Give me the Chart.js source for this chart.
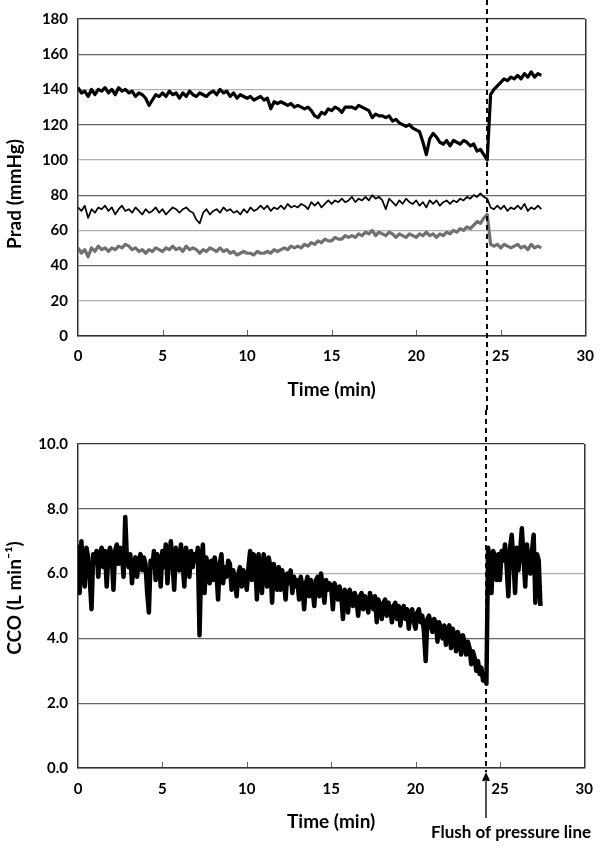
<!DOCTYPE html>
<html>
<head>
<meta charset="utf-8">
<script src="https://cdn.jsdelivr.net/npm/chart.js@4"></script>
<style>
  body { margin: 0; background: #fff; }
  canvas { display: block; }
</style>
</head>
<body>
<canvas id="pradChart" width="605" height="410"></canvas>
<canvas id="ccoChart" width="605" height="437"></canvas>
<script>
// pressure traces read every 0.2 min, CCO every 0.1 min
const PRAD_STEP = 0.2;
const CCO_STEP = 0.1;
const FLUSH_TIME = 24.2;
const xTicks = [0, 5, 10, 15, 20, 25, 30];

const pradHigh = [
  141, 138, 139, 136, 140,  137, 140, 139, 141, 138,
  140, 137, 141, 139, 140,  138, 139, 136, 138, 137,
  135, 131, 134, 137, 136,  138, 136, 139, 137, 138,
  135, 138, 136, 139, 137,  136, 138, 137, 136, 138,
  139, 137, 140, 138, 139,  136, 138, 135, 137, 136,
  135, 136, 134, 135, 136,  134, 135, 129, 133, 132,
  133, 132, 131, 132, 130,  131, 130, 129, 130, 128,
  125, 124, 127, 126, 129,  128, 130, 129, 127, 130,
  130, 130, 129, 131, 130,  129, 128, 124, 126, 125,
  125, 124, 125, 122, 123,  121, 120, 119, 120, 118,
  117, 116, 110, 103, 112,  115, 113, 110, 109, 111,
  108, 111, 110, 109, 111,  110, 108, 109, 105, 106,
  103, 100, 137, 140, 142,  144, 146, 145, 147, 146,
  148, 146, 149, 147, 150,  147, 149, 148
];

const pradMid = [
  73, 71, 74, 67, 72,  70, 73, 72, 74, 71,
  73, 69, 72, 74, 71,  72, 70, 73, 71, 69,
  72, 70, 71, 73, 70,  72, 69, 71, 73, 72,
  70, 72, 73, 71, 70,  66, 64, 70, 72, 69,
  71, 72, 70, 73, 71,  72, 70, 71, 69, 72,
  70, 73, 71, 72, 74,  72, 74, 71, 73, 72,
  74, 72, 75, 73, 74,  73, 75, 74, 72, 76,
  74, 76, 73, 75, 77,  75, 77, 76, 78, 76,
  77, 79, 76, 78, 77,  79, 77, 80, 78, 79,
  77, 72, 78, 76, 74,  77, 75, 78, 76, 75,
  77, 74, 76, 73, 77,  75, 77, 74, 76, 77,
  75, 77, 76, 78, 77,  79, 78, 80, 79, 81,
  79, 78, 73, 72, 74,  72, 74, 71, 73, 72,
  74, 72, 75, 71, 73,  72, 74, 72
];

const pradLow = [
  50, 47, 49, 45, 50,  48, 51, 49, 50, 48,
  50, 49, 51, 50, 52,  51, 49, 50, 48, 49,
  47, 49, 48, 50, 49,  48, 50, 49, 51, 49,
  50, 48, 51, 49, 50,  49, 47, 49, 48, 50,
  49, 48, 50, 48, 49,  47, 48, 46, 47, 48,
  47, 47, 46, 48, 47,  47, 48, 47, 49, 48,
  49, 50, 49, 51, 50,  51, 50, 52, 51, 53,
  52, 54, 53, 55, 54,  54, 56, 55, 55, 57,
  56, 57, 56, 58, 57,  59, 58, 60, 57, 59,
  58, 57, 59, 58, 56,  58, 57, 56, 58, 57,
  56, 58, 57, 59, 57,  58, 56, 58, 57, 59,
  58, 60, 59, 61, 60,  62, 61, 63, 65, 64,
  67, 69, 52, 51, 52,  50, 52, 51, 50, 51,
  52, 50, 51, 49, 52,  50, 51, 50
];

// one row per minute
const cco = [
  6.9, 5.4, 7.0, 6.2, 5.6, 6.8, 6.5, 5.8, 4.9, 6.6,
  6.4, 6.7, 5.9, 6.6, 6.8, 6.2, 6.7, 5.6, 6.6, 6.8,
  6.5, 5.5, 6.7, 6.9, 6.3, 6.8, 6.6, 5.9, 7.75, 6.4,
  6.2, 6.6, 5.7, 6.3, 6.5, 5.9, 6.4, 6.6, 6.1, 6.5,
  6.3, 5.4, 4.8, 6.4, 6.2, 6.7, 5.8, 6.6, 6.4, 5.6,
  6.7, 6.2, 6.9, 5.7, 6.5, 7.0, 6.3, 5.5, 6.8, 6.4,
  6.1, 6.9, 6.3, 5.6, 6.8, 6.5, 5.9, 6.7, 6.2, 6.6,
  6.4, 6.8, 4.1, 6.3, 6.9, 5.4, 6.5, 6.2, 5.7, 6.4,
  5.8, 6.5, 6.1, 5.2, 6.3, 6.6, 5.7, 6.2, 5.9, 6.4,
  6.3, 5.5, 6.1, 5.8, 5.3, 6.0, 6.2, 5.6, 6.1, 5.9,
  5.5, 6.2, 6.7, 5.8, 6.6, 6.4, 5.2, 6.6, 6.1, 5.4,
  6.6, 6.3, 5.6, 6.5, 6.2, 5.1, 6.3, 6.0, 5.5, 6.2,
  5.5, 6.1, 5.8, 5.2, 6.0, 5.7, 6.1, 5.4, 5.9, 5.6,
  5.8, 5.2, 5.9, 5.6, 4.9, 5.7, 5.9, 5.3, 5.8, 5.5,
  5.0, 5.8, 5.9, 5.3, 6.0, 5.6, 5.1, 5.8, 5.5, 5.7,
  5.6, 4.9, 5.7, 5.5, 5.2, 5.6, 5.3, 4.6, 5.5, 5.4,
  4.8, 5.5, 5.3, 5.0, 5.4, 5.2, 4.7, 5.3, 5.4, 4.9,
  5.3, 5.1, 4.8, 5.4, 5.2, 4.9, 5.3, 4.5, 5.2, 5.0,
  4.6, 5.1, 5.2, 4.7, 5.1, 4.9, 4.5, 5.0, 5.1, 4.6,
  5.0, 4.4, 4.9, 5.0, 4.6, 4.9, 4.3, 4.8, 4.9, 4.5,
  4.3, 4.8, 4.9, 4.5, 4.7, 4.2, 3.3, 4.6, 4.7, 4.4,
  4.2, 4.6, 4.5, 3.9, 4.5, 4.3, 4.0, 4.4, 3.8, 4.3,
  4.4, 3.7, 4.3, 4.1, 3.6, 4.2, 4.0, 3.5, 4.1, 3.9,
  3.5, 3.9, 3.7, 3.2, 3.6, 3.4, 3.0, 3.3, 2.9, 3.1,
  2.7, 2.8, 2.6, 6.8, 6.3, 5.4, 6.7, 6.5, 5.8, 6.6,
  5.8, 6.7, 6.4, 6.9, 6.2, 5.3, 6.8, 7.2, 6.4, 5.4,
  6.8, 6.1, 6.7, 7.4, 6.5, 5.6, 6.9, 6.3, 6.0, 6.7,
  7.2, 5.1, 6.6, 6.4, 5.0
];

const pts = (arr, step) => arr.map((v, i) => ({ x: +(i * step).toFixed(1), y: v }));

const FONT = "Lato, 'DejaVu Sans', sans-serif";
const tickFont = { family: FONT, size: 15, weight: 'bold' };
const titleFont = { family: FONT, size: 19, weight: 'bold' };

// y title drawn by hand so it can sit where the original has it
function yTitle(text, centerY) {
  return {
    id: 'yTitle',
    afterDraw(chart) {
      const ctx = chart.ctx;
      ctx.save();
      ctx.translate(15, centerY);
      ctx.rotate(-Math.PI / 2);
      ctx.font = 'bold 19px ' + FONT;
      ctx.fillStyle = '#000';
      ctx.textAlign = 'center';
      ctx.textBaseline = 'middle';
      ctx.fillText(text, 0, 0);
      ctx.restore();
    }
  };
}

// little inward tick marks on the time axis
const innerTicks = {
  id: 'innerTicks',
  afterDraw(chart) {
    const ctx = chart.ctx;
    const sx = chart.scales.x;
    const b = chart.chartArea.bottom;
    ctx.save();
    ctx.strokeStyle = '#666';
    ctx.lineWidth = 1;
    [5, 10, 15, 20, 25].forEach(v => {
      const x = Math.round(sx.getPixelForValue(v)) + 0.5;
      ctx.beginPath();
      ctx.moveTo(x, b - 1);
      ctx.lineTo(x, b - 6);
      ctx.stroke();
    });
    ctx.restore();
  }
};

function flushLine(withArrow) {
  return {
    id: 'flushLine',
    afterDraw(chart) {
      const ctx = chart.ctx;
      const x = Math.round(chart.scales.x.getPixelForValue(FLUSH_TIME));
      const b = chart.chartArea.bottom;
      const end = withArrow ? b + 4 : chart.height;
      ctx.save();
      ctx.strokeStyle = '#000';
      ctx.lineWidth = 2;
      ctx.setLineDash([5, 4]);
      ctx.beginPath();
      ctx.moveTo(x, 0);
      ctx.lineTo(x, end);
      ctx.stroke();
      if (withArrow) {
        ctx.setLineDash([]);
        ctx.fillStyle = '#000';
        ctx.beginPath();
        ctx.moveTo(x, b + 4);
        ctx.lineTo(x - 4, b + 13);
        ctx.lineTo(x + 4, b + 13);
        ctx.closePath();
        ctx.fill();
        ctx.strokeStyle = '#555';
        ctx.beginPath();
        ctx.moveTo(x, b + 12);
        ctx.lineTo(x, b + 50);
        ctx.stroke();
        ctx.font = 'bold 17px ' + FONT;
        ctx.fillStyle = '#000';
        ctx.textAlign = 'center';
        ctx.textBaseline = 'middle';
        ctx.fillText('Flush of pressure line', x + 25, b + 65);
      }
      ctx.restore();
    }
  };
}

function xScale(labelPad, titleBottom, height) {
  return {
    type: 'linear', min: 0, max: 30,
    afterBuildTicks: s => { s.ticks = xTicks.map(v => ({ value: v })); },
    ticks: { color: '#000', font: tickFont, padding: labelPad, maxRotation: 0 },
    grid: {
      drawTicks: false, lineWidth: 1.5,
      color: c => (c.tick && c.tick.value === 30) ? '#333' : 'rgba(0,0,0,0)'
    },
    border: { color: '#333', width: 1.5 },
    title: { display: true, text: 'Time (min)', color: '#000', font: titleFont,
             padding: { top: 0, bottom: titleBottom } },
    afterFit: s => { s.height = height; }
  };
}

new Chart(document.getElementById('pradChart'), {
  type: 'line',
  data: {
    datasets: [
      { data: pts(pradHigh, PRAD_STEP), borderColor: '#000', borderWidth: 3.2 },
      { data: pts(pradMid, PRAD_STEP), borderColor: '#000', borderWidth: 1.7 },
      { data: pts(pradLow, PRAD_STEP), borderColor: '#707070', borderWidth: 3.2 }
    ]
  },
  options: {
    responsive: false,
    animation: false,
    layout: { padding: { top: 7, right: 9, left: 0, bottom: 0 } },
    plugins: { legend: { display: false }, tooltip: { enabled: false } },
    elements: { point: { radius: 0 }, line: { tension: 0, borderJoinStyle: 'round' } },
    scales: {
      x: xScale(11, 9, 74),
      y: {
        min: 0, max: 180,
        ticks: { stepSize: 20, color: '#000', font: tickFont, padding: 10 },
        grid: {
          drawTicks: false, lineWidth: 1.2,
          color: c => {
            const v = c.tick.value;
            if (v === 180) return '#333';
            return (v / 20) % 2 === 1 ? '#b0b0b0' : '#666';
          }
        },
        border: { color: '#333', width: 1.5 },
        afterFit: s => { s.width = 78; }
      }
    }
  },
  plugins: [yTitle('Prad (mmHg)', 194), innerTicks, flushLine(false)]
});

new Chart(document.getElementById('ccoChart'), {
  type: 'line',
  data: {
    datasets: [
      { data: pts(cco, CCO_STEP), borderColor: '#000', borderWidth: 4.5 }
    ]
  },
  options: {
    responsive: false,
    animation: false,
    layout: { padding: { top: 34, right: 9, left: 0, bottom: 0 } },
    plugins: { legend: { display: false }, tooltip: { enabled: false } },
    elements: { point: { radius: 0 }, line: { tension: 0, borderJoinStyle: 'round' } },
    scales: {
      x: xScale(12, 14, 79),
      y: {
        min: 0, max: 10,
        ticks: { stepSize: 2, color: '#000', font: tickFont, padding: 10,
                 callback: v => v.toFixed(1) },
        grid: {
          drawTicks: false, lineWidth: 1.2,
          color: c => c.tick.value === 10 ? '#333' : (c.tick.value === 6 ? '#b0b0b0' : '#666')
        },
        border: { color: '#333', width: 1.5 },
        afterFit: s => { s.width = 78; }
      }
    }
  },
  plugins: [yTitle('CCO (L min\u207B\u00B9)', 188), innerTicks, flushLine(true)]
});
</script>
</body>
</html>
